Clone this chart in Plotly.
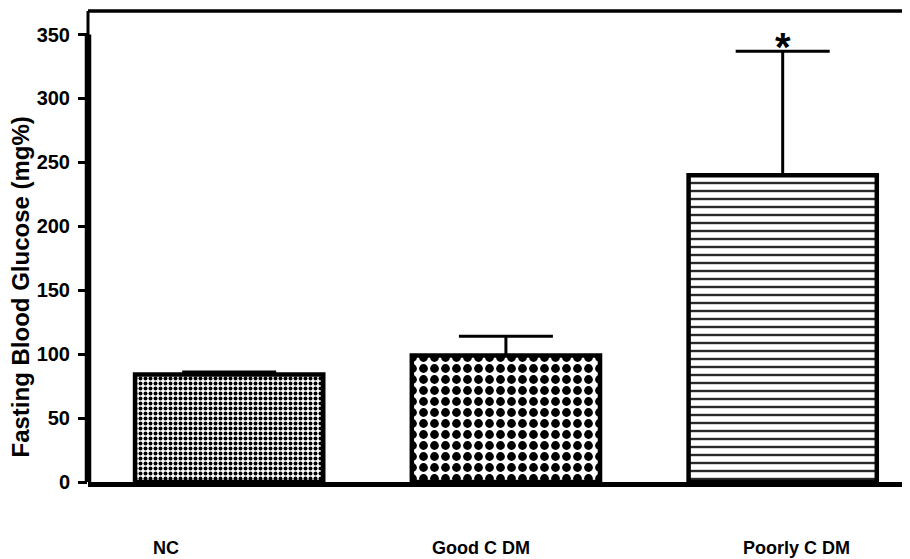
import plotly.graph_objects as go

# ---- data ----
categories = ["NC", "Good C DM", "Poorly C DM"]
means = [84, 99, 240]
errors_up = [2, 15, 97]
significance = ["", "", "*"]
y_ticks = [0, 50, 100, 150, 200, 250, 300, 350]
y_title = "Fasting Blood Glucose (mg%)"

Y_MAX = 368.4
FONT = "Arial, 'Liberation Sans', Helvetica, sans-serif"

fig = go.Figure()
fig.add_trace(go.Bar(
    x=categories,
    y=means,
    width=0.68,
    marker=dict(
        color="white",
        line=dict(color="black", width=4.5),
        pattern=dict(
            shape=[".", ".", "-"],
            size=[5, 11, 8],
            solidity=[0.5, 0.5, 0.3],
            fgcolor=["black", "black", "#2a2a2a"],
            bgcolor="white",
            fillmode="replace",
        ),
    ),
    error_y=dict(
        type="data",
        symmetric=False,
        array=errors_up,
        arrayminus=[0] * len(errors_up),
        color="black",
        thickness=3,
        width=47,
    ),
    hoverinfo="skip",
    showlegend=False,
))

# significance marks
for c, m, e, s in zip(categories, means, errors_up, significance):
    if s:
        fig.add_annotation(x=c, y=m + e, xref="x", yref="y", text=f"<b>{s}</b>",
                           showarrow=False, yanchor="middle", yshift=4,
                           font=dict(family=FONT, size=40, color="black"))

# category labels (offset under the bars, as in the original)
label_shift = [-63, -25, 14]
for c, dx in zip(categories, label_shift):
    fig.add_annotation(x=c, y=-0.14, xref="x", yref="paper", text=f"<b>{c}</b>",
                       showarrow=False, xshift=dx, yanchor="middle",
                       font=dict(family=FONT, size=18, color="black"))

# y-axis title
fig.add_annotation(x=-0.0827, y=0.413, xref="paper", yref="paper",
                   text=f"<b>{y_title}</b>", textangle=-90, showarrow=False,
                   xanchor="center", yanchor="middle",
                   font=dict(family=FONT, size=24, color="black"))

# frame and thick y axis line
fig.add_shape(type="line", xref="paper", yref="paper", x0=0, x1=1, y0=1, y1=1,
              line=dict(color="black", width=3.5))
fig.add_shape(type="line", xref="paper", yref="paper", x0=0, x1=0, y0=0, y1=1,
              line=dict(color="black", width=3))
fig.add_shape(type="line", xref="paper", yref="paper", x0=0, x1=0,
              y0=0, y1=max(y_ticks) / Y_MAX,
              line=dict(color="black", width=6.5))

# page body adds an 8px offset; figure is sized so the visible window matches
fig.update_layout(
    width=902, height=551,
    margin=dict(l=80, r=0, t=3, b=77),
    paper_bgcolor="white", plot_bgcolor="white",
    font=dict(family=FONT, color="black"),
    xaxis=dict(
        range=[-0.51, 2.46],
        showticklabels=False, ticks="",
        showline=True, linecolor="black", linewidth=4.5,
        showgrid=False, zeroline=False,
    ),
    yaxis=dict(
        range=[0, Y_MAX],
        tickvals=y_ticks,
        ticktext=[f"<b>{v}</b>" for v in y_ticks],
        ticks="outside", ticklen=9, tickwidth=3, tickcolor="black",
        tickfont=dict(family=FONT, size=20, color="black"),
        ticklabelstandoff=4,
        showline=False, showgrid=False, zeroline=False,
    ),
    bargap=0.3,
)

fig.write_html("out.html")
